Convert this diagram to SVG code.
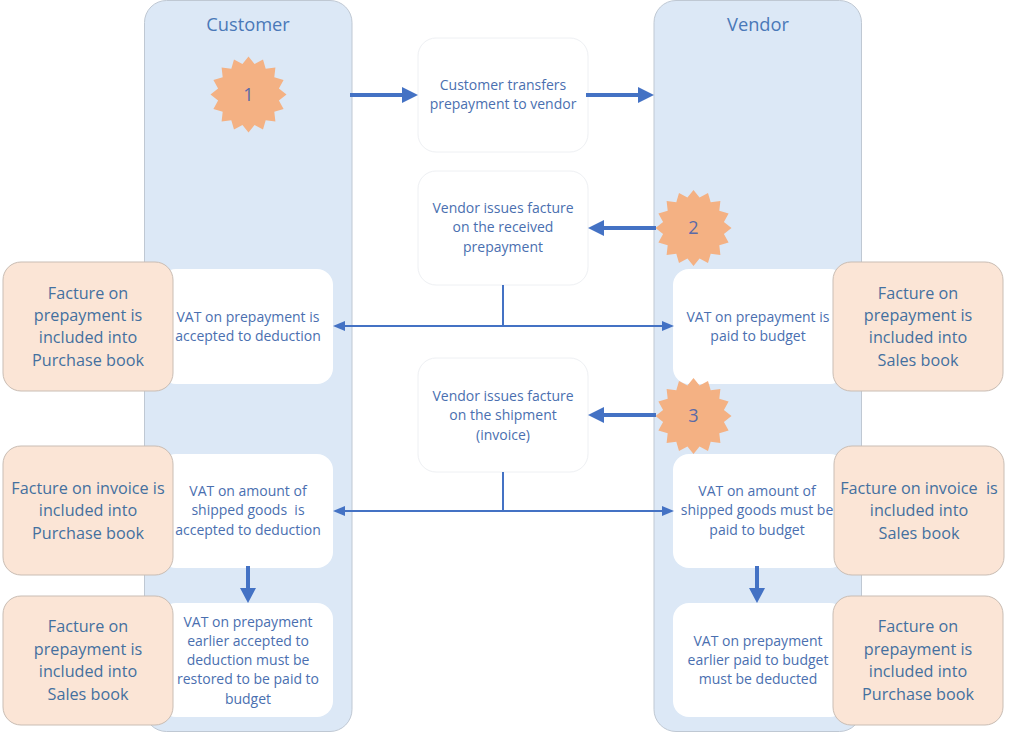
<svg xmlns="http://www.w3.org/2000/svg" width="1013" height="732" viewBox="0 0 1013 732">
<style>
text{font-family:"Open Sans","Noto Sans","DejaVu Sans",sans-serif;text-anchor:middle;white-space:pre}
.lane{fill:#dce8f6;stroke:#bfc8d3;stroke-width:1}
.step{fill:#fff;stroke:#eef0f3;stroke-width:1}
.vat{fill:#fff}
.book{fill:#fbe5d6;stroke:#c9bdb4;stroke-width:1}
.star{fill:#f4b183}
.t{font-size:14px;fill:#4a6fb0}
.b{font-size:16.2px;fill:#44709f}
.h{font-size:18.3px;fill:#4a78b8}
.n{font-size:18px;fill:#5a6aa8}
.thick{stroke:#4472c4;stroke-width:4;fill:none}
.thin{stroke:#4472c4;stroke-width:2;fill:none}
.head{fill:#4472c4}
</style>
<defs>
<polygon id="burst" class="star" points="0,-38 6.05,-30.4 14.5,-35.1 17.2,-25.8 26.9,-26.9 25.8,-17.2 35.1,-14.5 30.4,-6.05 38,0 30.4,6.05 35.1,14.5 25.8,17.2 26.9,26.9 17.2,25.8 14.5,35.1 6.05,30.4 0,38 -6.05,30.4 -14.5,35.1 -17.2,25.8 -26.9,26.9 -25.8,17.2 -35.1,14.5 -30.4,6.05 -38,0 -30.4,-6.05 -35.1,-14.5 -25.8,-17.2 -26.9,-26.9 -17.2,-25.8 -14.5,-35.1 -6.05,-30.4"/>
</defs>
<rect width="1013" height="732" fill="#fff"/>
<g id="lane-customer"><rect class="lane" x="144.500" y="0.500" width="207.500" height="731" rx="22"/><text class="h" x="248" y="31">Customer</text></g>
<g id="lane-vendor"><rect class="lane" x="654" y="0.500" width="207.500" height="731" rx="22"/><text class="h" x="758" y="31">Vendor</text></g>
<g id="step-prepayment"><rect class="step" x="418" y="38" width="170" height="114" rx="18"/><text class="t" x="503" y="90">Customer transfers</text><text class="t" x="503" y="109">prepayment to vendor</text></g>
<g id="step-facture-prepayment"><rect class="step" x="418" y="171" width="170" height="114" rx="18"/><text class="t" x="503" y="213">Vendor issues facture</text><text class="t" x="503" y="232">on the received</text><text class="t" x="503" y="252">prepayment</text></g>
<g id="step-facture-shipment"><rect class="step" x="418" y="358" width="170" height="114" rx="18"/><text class="t" x="503" y="401">Vendor issues facture</text><text class="t" x="503" y="420">on the shipment</text><text class="t" x="503" y="440">(invoice)</text></g>
<g id="vat-c1"><rect class="vat" x="160" y="269" width="173" height="115" rx="16"/><text class="t" x="248" y="322">VAT on prepayment is</text><text class="t" x="248" y="341">accepted to deduction</text></g>
<g id="vat-c2"><rect class="vat" x="160" y="454" width="173" height="114" rx="16"/><text class="t" x="248" y="496">VAT on amount of</text><text class="t" x="248" y="515">shipped goods  is</text><text class="t" x="248" y="535">accepted to deduction</text></g>
<g id="vat-c3"><rect class="vat" x="160" y="603" width="173" height="114" rx="16"/><text class="t" x="248" y="627">VAT on prepayment</text><text class="t" x="248" y="646">earlier accepted to</text><text class="t" x="248" y="665">deduction must be</text><text class="t" x="248" y="684">restored to be paid to</text><text class="t" x="248" y="704">budget</text></g>
<g id="vat-v1"><rect class="vat" x="673" y="269" width="173" height="115" rx="16"/><text class="t" x="758" y="322">VAT on prepayment is</text><text class="t" x="758" y="341">paid to budget</text></g>
<g id="vat-v2"><rect class="vat" x="673" y="454" width="173" height="114" rx="16"/><text class="t" x="757" y="496">VAT on amount of</text><text class="t" x="757" y="515">shipped goods must be</text><text class="t" x="757" y="535">paid to budget</text></g>
<g id="vat-v3"><rect class="vat" x="673" y="603" width="173" height="114" rx="16"/><text class="t" x="758" y="646">VAT on prepayment</text><text class="t" x="758" y="665">earlier paid to budget</text><text class="t" x="758" y="684">must be deducted</text></g>
<g id="book-c1"><rect class="book" x="3" y="262" width="170" height="129" rx="18"/><text class="b" x="88" y="299">Facture on</text><text class="b" x="88" y="321">prepayment is</text><text class="b" x="88" y="343">included into</text><text class="b" x="88" y="366">Purchase book</text></g>
<g id="book-c2"><rect class="book" x="3" y="446" width="170" height="129" rx="18"/><text class="b" x="88" y="494">Facture on invoice is</text><text class="b" x="88" y="516">included into</text><text class="b" x="88" y="539">Purchase book</text></g>
<g id="book-c3"><rect class="book" x="3" y="596" width="170" height="129" rx="18"/><text class="b" x="88" y="632">Facture on</text><text class="b" x="88" y="655">prepayment is</text><text class="b" x="88" y="677">included into</text><text class="b" x="88" y="700">Sales book</text></g>
<g id="book-v1"><rect class="book" x="833" y="262" width="170" height="129" rx="18"/><text class="b" x="918" y="299">Facture on</text><text class="b" x="918" y="321">prepayment is</text><text class="b" x="918" y="343">included into</text><text class="b" x="918" y="366">Sales book</text></g>
<g id="book-v2"><rect class="book" x="834" y="446" width="170" height="129" rx="18"/><text class="b" x="919" y="494">Facture on invoice  is</text><text class="b" x="919" y="516">included into</text><text class="b" x="919" y="539">Sales book</text></g>
<g id="book-v3"><rect class="book" x="833" y="596" width="170" height="129" rx="18"/><text class="b" x="918" y="632">Facture on</text><text class="b" x="918" y="655">prepayment is</text><text class="b" x="918" y="677">included into</text><text class="b" x="918" y="700">Purchase book</text></g>
<g id="badge-1"><use href="#burst" x="248.500" y="94.500"/><text class="n" x="248.500" y="100.500">1</text></g>
<g id="badge-2"><use href="#burst" x="693.500" y="228"/><text class="n" x="693.500" y="234">2</text></g>
<g id="badge-3"><use href="#burst" x="693.500" y="416"/><text class="n" x="693.500" y="422">3</text></g>
<g id="connectors">
<path class="thick" d="M350 95H404"/><polygon class="head" points="402,87 418,95 402,103"/>
<path class="thick" d="M586 95H640"/><polygon class="head" points="638,87 654,95 638,103"/>
<path class="thick" d="M656 228H602"/><polygon class="head" points="604,220 588,228 604,236"/>
<path class="thick" d="M656 415H602"/><polygon class="head" points="604,407 588,415 604,423"/>
<path class="thin" d="M503 285V326"/><path class="thin" d="M344 326H664"/>
<polygon class="head" points="345,321 333,326 345,331"/><polygon class="head" points="662,321 674,326 662,331"/>
<path class="thin" d="M503 472V511"/><path class="thin" d="M344 511H664"/>
<polygon class="head" points="345,506 333,511 345,516"/><polygon class="head" points="662,506 674,511 662,516"/>
<path class="thick" d="M248 566V590"/><polygon class="head" points="240,588 248,603 256,588"/>
<path class="thick" d="M757 566V590"/><polygon class="head" points="749,588 757,603 765,588"/>
</g>
</svg>
